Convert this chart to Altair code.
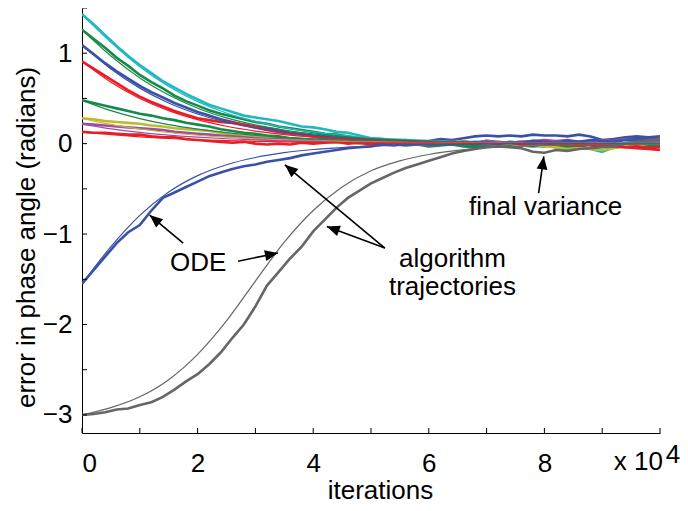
import math
import altair as alt
import pandas as pd

# ---------------- data ----------------
t_traj = [0.0, 0.2, 0.4, 0.6, 0.8, 1.0, 1.2, 1.4, 1.6, 1.8,
          2.0, 2.2, 2.4, 2.6, 2.8, 3.0, 3.2, 3.4, 3.6, 3.8,
          4.0, 4.2, 4.4, 4.6, 4.8, 5.0, 5.2, 5.4, 5.6, 5.8,
          6.0, 6.2, 6.4, 6.6, 6.8, 7.0, 7.2, 7.4, 7.6, 7.8,
          8.0, 8.2, 8.4, 8.6, 8.8, 9.0, 9.2, 9.4, 9.6, 9.8, 10.0]
t_ode = [0.0, 0.5, 1.0, 1.5, 2.0, 2.5, 3.0, 3.5, 4.0, 4.5, 5.0,
         5.5, 6.0, 6.5, 7.0, 7.5, 8.0, 8.5, 9.0, 9.5, 10.0]

series_names = ["cyan", "green1", "blue1", "red1", "green2",
                "yellow", "magenta", "red2", "blue2", "gray"]
series_colors = ["#22B8C2", "#17894A", "#3A52A6", "#EC1C26", "#17894A",
                 "#BDBB2E", "#A24BA5", "#EC1C26", "#3A52A6", "#666666"]

traj_cyan = [1.43, 1.32, 1.20, 1.08, 0.97, 0.87, 0.78, 0.69, 0.62, 0.55,
             0.49, 0.43, 0.39, 0.35, 0.31, 0.29, 0.27, 0.25, 0.22, 0.19,
             0.18, 0.16, 0.13, 0.12, 0.09, 0.06, 0.05, 0.03, 0.04, 0.02,
             0.01, 0.03, 0.00, 0.02, 0.01, 0.03, 0.01, -0.01, -0.02, 0.00,
             -0.01, -0.03, -0.02, -0.03, -0.06, -0.09, -0.04, 0.01, 0.03, 0.02, 0.02]
traj_green1 = [1.26, 1.16, 1.06, 0.95, 0.86, 0.76, 0.68, 0.61, 0.53, 0.47,
               0.42, 0.37, 0.33, 0.30, 0.27, 0.24, 0.22, 0.19, 0.17, 0.15,
               0.13, 0.11, 0.10, 0.08, 0.06, 0.05, 0.03, 0.02, 0.03, 0.01,
               0.00, -0.01, 0.01, -0.01, -0.02, 0.00, -0.02, -0.03, -0.01, -0.02,
               -0.03, -0.02, -0.04, -0.03, -0.01, -0.02, -0.03, -0.02, -0.04, -0.03, -0.02]
traj_blue1 = [1.09, 0.99, 0.89, 0.80, 0.72, 0.64, 0.57, 0.51, 0.45, 0.40,
              0.35, 0.31, 0.27, 0.24, 0.21, 0.19, 0.17, 0.15, 0.12, 0.11,
              0.09, 0.08, 0.06, 0.05, 0.04, 0.03, 0.02, 0.04, 0.03, 0.02,
              0.03, 0.05, 0.04, 0.06, 0.08, 0.09, 0.08, 0.09, 0.08, 0.10,
              0.09, 0.09, 0.08, 0.10, 0.08, 0.04, 0.05, 0.07, 0.08, 0.07, 0.08]
traj_red1 = [0.91, 0.83, 0.75, 0.67, 0.59, 0.52, 0.46, 0.41, 0.36, 0.32,
             0.28, 0.26, 0.24, 0.23, 0.21, 0.18, 0.15, 0.13, 0.11, 0.10,
             0.08, 0.06, 0.07, 0.05, 0.04, 0.03, 0.02, 0.03, 0.01, 0.02,
             0.00, 0.01, 0.02, 0.00, 0.01, 0.02, 0.00, 0.01, 0.02, 0.01,
             0.00, -0.01, 0.01, 0.00, -0.02, -0.03, -0.02, -0.04, -0.05, -0.06, -0.07]
traj_green2 = [0.48, 0.45, 0.42, 0.39, 0.36, 0.33, 0.31, 0.28, 0.26, 0.23,
               0.21, 0.19, 0.16, 0.14, 0.12, 0.11, 0.09, 0.08, 0.06, 0.05,
               0.04, 0.05, 0.03, 0.02, 0.01, 0.00, 0.01, -0.01, -0.02, -0.01,
               -0.03, -0.02, -0.01, -0.03, -0.04, -0.02, -0.03, -0.01, -0.02, -0.03,
               -0.02, -0.04, -0.03, -0.02, -0.01, -0.02, -0.03, -0.02, -0.01, -0.02, -0.03]
traj_yellow = [0.28, 0.27, 0.25, 0.24, 0.23, 0.22, 0.20, 0.19, 0.17, 0.16,
               0.15, 0.14, 0.12, 0.10, 0.09, 0.08, 0.07, 0.05, 0.04, 0.03,
               0.04, 0.02, 0.01, 0.02, 0.00, 0.01, 0.02, 0.00, 0.01, -0.01,
               0.00, 0.02, 0.01, 0.03, 0.01, 0.00, -0.01, 0.00, -0.02, -0.01,
               -0.03, -0.04, -0.06, -0.05, -0.06, -0.07, -0.05, -0.03, -0.02, 0.00, 0.01]
traj_magenta = [0.22, 0.21, 0.20, 0.19, 0.18, 0.17, 0.16, 0.15, 0.13, 0.12,
                0.11, 0.10, 0.09, 0.08, 0.07, 0.06, 0.05, 0.06, 0.04, 0.03,
                0.04, 0.02, 0.03, 0.01, 0.02, 0.00, 0.01, 0.02, 0.00, 0.01,
                -0.01, 0.00, 0.01, 0.02, 0.01, 0.03, 0.02, 0.01, 0.02, 0.03,
                0.04, 0.03, 0.04, 0.02, 0.03, 0.04, 0.03, 0.05, 0.04, 0.03, 0.03]
traj_red2 = [0.13, 0.12, 0.12, 0.11, 0.10, 0.10, 0.08, 0.07, 0.07, 0.05,
             0.04, 0.03, 0.02, 0.01, 0.02, 0.00, -0.01, 0.00, -0.01, 0.01,
             0.00, 0.01, 0.02, 0.00, 0.01, -0.01, 0.00, 0.01, 0.02, 0.01,
             0.00, 0.01, 0.02, 0.01, 0.00, 0.01, 0.00, 0.01, -0.01, 0.00,
             0.01, 0.00, -0.01, -0.02, -0.01, -0.02, -0.03, -0.04, -0.03, -0.05, -0.04]
traj_blue2 = [-1.55, -1.40, -1.25, -1.10, -0.98, -0.90, -0.74, -0.60, -0.54, -0.48,
              -0.42, -0.36, -0.32, -0.28, -0.25, -0.23, -0.20, -0.18, -0.16, -0.13,
              -0.11, -0.09, -0.07, -0.05, -0.04, -0.03, -0.01, -0.02, 0.00, -0.01,
              0.01, 0.02, 0.00, 0.01, 0.02, 0.01, 0.00, 0.02, 0.01, 0.03,
              0.02, 0.01, 0.03, 0.02, 0.04, 0.03, 0.02, 0.04, 0.05, 0.06, 0.05]
traj_gray = [-3.00, -2.99, -2.97, -2.94, -2.93, -2.89, -2.86, -2.80, -2.72, -2.63,
             -2.55, -2.44, -2.31, -2.15, -2.00, -1.80, -1.57, -1.42, -1.27, -1.14,
             -0.97, -0.84, -0.71, -0.60, -0.52, -0.44, -0.38, -0.32, -0.27, -0.23,
             -0.19, -0.15, -0.11, -0.08, -0.06, -0.04, -0.03, -0.04, -0.05, -0.09,
             -0.10, -0.07, -0.08, -0.06, -0.05, -0.04, -0.03, 0.00, 0.02, 0.04, 0.05]

ode_cyan = [1.43, 1.121, 0.851, 0.633, 0.465, 0.339, 0.246, 0.178, 0.129, 0.093, 0.067,
            0.049, 0.035, 0.025, 0.018, 0.013, 0.010, 0.007, 0.005, 0.004, 0.003]
ode_green1 = [1.26, 0.969, 0.727, 0.537, 0.392, 0.285, 0.207, 0.150, 0.108, 0.078, 0.057,
              0.041, 0.029, 0.021, 0.015, 0.011, 0.008, 0.006, 0.004, 0.003, 0.002]
ode_blue1 = [1.09, 0.826, 0.614, 0.450, 0.328, 0.238, 0.172, 0.125, 0.090, 0.065, 0.047,
             0.034, 0.025, 0.018, 0.013, 0.009, 0.007, 0.005, 0.004, 0.003, 0.002]
ode_red1 = [0.91, 0.679, 0.500, 0.365, 0.265, 0.192, 0.139, 0.100, 0.073, 0.053, 0.038,
            0.027, 0.020, 0.014, 0.010, 0.007, 0.005, 0.004, 0.003, 0.002, 0.001]
ode_green2 = [0.48, 0.365, 0.277, 0.210, 0.160, 0.121, 0.092, 0.070, 0.053, 0.040, 0.031,
              0.023, 0.018, 0.013, 0.010, 0.008, 0.006, 0.004, 0.003, 0.003, 0.002]
ode_yellow = [0.28, 0.213, 0.162, 0.123, 0.093, 0.071, 0.054, 0.041, 0.031, 0.024, 0.018,
              0.014, 0.010, 0.008, 0.006, 0.005, 0.003, 0.003, 0.002, 0.002, 0.001]
ode_magenta = [0.215, 0.163, 0.124, 0.094, 0.072, 0.054, 0.041, 0.031, 0.024, 0.018, 0.014,
               0.010, 0.008, 0.006, 0.005, 0.003, 0.003, 0.002, 0.002, 0.001, 0.001]
ode_red2 = [0.13, 0.099, 0.075, 0.057, 0.043, 0.033, 0.025, 0.019, 0.014, 0.011, 0.008,
            0.006, 0.005, 0.004, 0.003, 0.002, 0.002, 0.001, 0.001, 0.001, 0.001]
ode_blue2 = [-1.55, -1.140, -0.794, -0.535, -0.354, -0.233, -0.153, -0.100, -0.065, -0.043, -0.028,
             -0.018, -0.012, -0.008, -0.005, -0.003, -0.002, -0.001, -0.001, 0.0, 0.0]
ode_gray = [-3.00, -2.92, -2.80, -2.61, -2.33, -1.96, -1.52, -1.09, -0.74, -0.48, -0.30,
            -0.19, -0.12, -0.075, -0.045, -0.03, -0.02, -0.013, -0.009, -0.006, -0.004]

x_label_values = [0, 2, 4, 6, 8]
y_label_values = [-3, -2, -1, 0, 1]
x_tick_values = [0, 1, 2, 3, 4, 5, 6, 7, 8, 9, 10]
y_tick_values = [-3.0, -2.5, -2.0, -1.5, -1.0, -0.5, 0.0, 0.5, 1.0, 1.5]

# annotation texts (data coordinates)
ann_text = ["ODE", "algorithm", "trajectories", "final variance"]
ann_t = [2.01, 6.41, 6.41, 8.02]
ann_v = [-1.41, -1.36, -1.67, -0.79]

# arrows: start -> tip (data coordinates)
arr_t0 = [1.75, 2.70, 5.24, 5.24, 7.90]
arr_v0 = [-1.10, -1.30, -1.155, -1.155, -0.547]
arr_t1 = [1.17, 3.39, 3.51, 4.235, 7.99]
arr_v1 = [-0.79, -1.21, -0.234, -0.915, -0.141]

# axis exponent label "x 10^4" (data coordinates, below the axis)
exp_text = ["x 10", "4"]
exp_t = [9.20, 10.10]
exp_v = [-3.61, -3.53]

X_DOMAIN = [0, 10]
Y_DOMAIN = [-3.2, 1.5]
W, H = 578, 425
FONT = "Liberation Sans"
FS = 26

traj = {"cyan": traj_cyan, "green1": traj_green1, "blue1": traj_blue1, "red1": traj_red1,
        "green2": traj_green2, "yellow": traj_yellow, "magenta": traj_magenta,
        "red2": traj_red2, "blue2": traj_blue2, "gray": traj_gray}
ode = {"cyan": ode_cyan, "green1": ode_green1, "blue1": ode_blue1, "red1": ode_red1,
       "green2": ode_green2, "yellow": ode_yellow, "magenta": ode_magenta,
       "red2": ode_red2, "blue2": ode_blue2, "gray": ode_gray}

rows_traj, rows_ode = [], []
for name in series_names:
    assert len(traj[name]) == len(t_traj), name
    assert len(ode[name]) == len(t_ode), name
    for t, v in zip(t_traj, traj[name]):
        rows_traj.append({"series": name, "t": t, "v": v})
    for t, v in zip(t_ode, ode[name]):
        rows_ode.append({"series": name, "t": t, "v": v})
df_traj = pd.DataFrame(rows_traj)
df_ode = pd.DataFrame(rows_ode)

px_t = W / (X_DOMAIN[1] - X_DOMAIN[0])
px_v = H / (Y_DOMAIN[1] - Y_DOMAIN[0])
arrows = []
for a, b, c, d in zip(arr_t0, arr_v0, arr_t1, arr_v1):
    dx = (c - a) * px_t
    dy = -(d - b) * px_v
    ang = math.degrees(math.atan2(dx, -dy)) % 360
    arrows.append({"t": a, "v": b, "t2": c, "v2": d, "angle": ang})
df_arr = pd.DataFrame(arrows)
df_ann = pd.DataFrame({"t": ann_t, "v": ann_v, "label": ann_text})
df_exp = pd.DataFrame({"t": exp_t, "v": exp_v, "label": exp_text})

xs = alt.Scale(domain=X_DOMAIN, nice=False, zero=False)
ys = alt.Scale(domain=Y_DOMAIN, nice=False, zero=False)
cs = alt.Scale(domain=series_names, range=series_colors)

common_axis = dict(
    ticks=False, tickSize=0, grid=False, format="d",
    domainColor="black", domainWidth=1,
    labelColor="black", labelFont=FONT, labelFontSize=FS, labelFontWeight="normal",
    titleColor="black", titleFont=FONT, titleFontSize=FS, titleFontWeight="normal",
)
x_axis = alt.Axis(values=x_label_values, title="iterations", labelPadding=17,
                  titleX=298, titleY=65, titleBaseline="alphabetic", titleAlign="center",
                  **common_axis)
y_axis = alt.Axis(values=y_label_values, title="error in phase angle (radians)",
                  labelPadding=10, titleX=-56, titleY=229, titleAngle=270,
                  titleBaseline="middle", titleAlign="center", **common_axis)

traj_layer = alt.Chart(df_traj).mark_line(strokeWidth=2.6, clip=True).encode(
    x=alt.X("t:Q", scale=xs, axis=x_axis),
    y=alt.Y("v:Q", scale=ys, axis=y_axis),
    color=alt.Color("series:N", scale=cs, legend=None),
    detail="series:N",
)
ode_layer = alt.Chart(df_ode).mark_line(strokeWidth=1.2, interpolate="monotone", clip=True).encode(
    x=alt.X("t:Q", scale=xs),
    y=alt.Y("v:Q", scale=ys),
    color=alt.Color("series:N", scale=cs, legend=None),
    detail="series:N",
)

ytick_layer = alt.Chart(pd.DataFrame({"v": y_tick_values})).mark_rule(
    color="black", strokeWidth=1).encode(
    y=alt.Y("v:Q", scale=ys), x=alt.value(0), x2=alt.value(5))
xtick_layer = alt.Chart(pd.DataFrame({"t": x_tick_values})).mark_rule(
    color="black", strokeWidth=1).encode(
    x=alt.X("t:Q", scale=xs), y=alt.value(H), y2=alt.value(H - 5))

arrow_lines = alt.Chart(df_arr).mark_rule(color="black", strokeWidth=1.6).encode(
    x=alt.X("t:Q", scale=xs), y=alt.Y("v:Q", scale=ys), x2="t2:Q", y2="v2:Q")
arrow_heads = alt.Chart(df_arr).mark_point(
    shape="M0,0L-0.42,1L0.42,1Z", filled=True, color="black", opacity=1,
    size=676, strokeWidth=0).encode(
    x=alt.X("t2:Q", scale=xs), y=alt.Y("v2:Q", scale=ys),
    angle=alt.Angle("angle:Q", scale=None))

ann_layer = alt.Chart(df_ann).mark_text(
    font=FONT, fontSize=FS, align="center", baseline="alphabetic", color="black").encode(
    x=alt.X("t:Q", scale=xs), y=alt.Y("v:Q", scale=ys), text="label:N")

exp_layer = alt.Chart(df_exp).mark_text(
    font=FONT, fontSize=FS, align="left", baseline="alphabetic", color="black").encode(
    x=alt.X("t:Q", scale=xs), y=alt.Y("v:Q", scale=ys), text="label:N")

chart = alt.layer(
    traj_layer, ode_layer, ytick_layer, xtick_layer,
    arrow_lines, arrow_heads, ann_layer, exp_layer
).properties(
    width=W, height=H,
    padding={"left": 74, "top": 0, "right": 20, "bottom": 70},
    autosize=alt.AutoSizeParams(type="none"),
    background="white",
).configure_view(stroke=None)

chart.save("out.html", embed_options={"renderer": "svg", "actions": False})
